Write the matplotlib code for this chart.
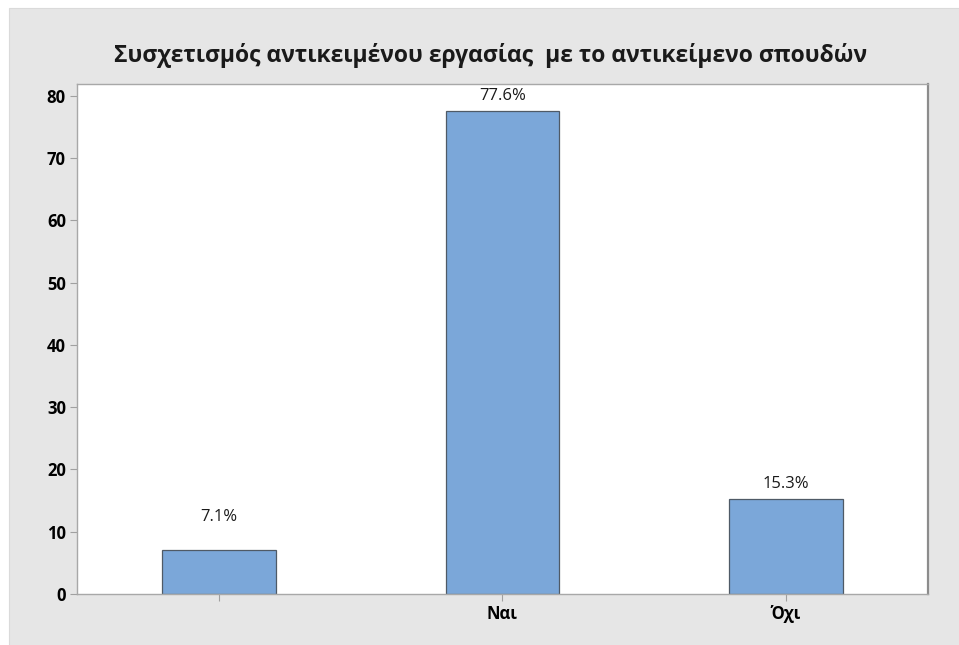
import numpy as np
import matplotlib
matplotlib.use('Agg')
import matplotlib.pyplot as plt

plt.rcParams['font.family'] = ['Open Sans', 'DejaVu Sans']

categories = ['', 'Ναι', 'Όχι']
percentages = [7.1, 77.6, 15.3]
y_ticks = [0, 10, 20, 30, 40, 50, 60, 70, 80]
title = 'Συσχετισμός αντικειμένου εργασίας  με το αντικείμενο σπουδών'

fig = plt.figure(figsize=(9.59, 6.45), dpi=100)
fig.patch.set_facecolor('white')
# grey panel (white strip on top and left)
fig.patches.append(plt.Rectangle((9 / 959, -0.01), 1, 1.01 - 8 / 645, transform=fig.transFigure,
                                 facecolor='#e6e6e6', edgecolor='#dadada', lw=0.8, zorder=-1))

ax = fig.add_axes([77 / 959, 1 - 594 / 645, 851 / 959, 510 / 645])
ax.set_facecolor('white')

x = np.arange(len(categories))
ax.bar(x, percentages, width=0.4, color='#7ba7d9', edgecolor='#4f5a66', linewidth=0.9, zorder=2)

for xi, v in zip(x, percentages):
    ax.text(xi, max(v, 10) + 2.3, f'{v}%', ha='center', va='center', fontsize=12, color='#1a1a1a')

ax.set_xlim(-0.5, 2.5)
ax.set_ylim(0, 81.9)
ax.set_xticks(x)
ax.set_xticklabels(categories, fontsize=12, fontweight='bold')
ax.set_yticks(y_ticks)
ax.set_yticklabels([str(t) for t in y_ticks], fontsize=12, fontweight='bold')
ax.tick_params(axis='both', direction='out', length=5, width=0.8, color='#a0a0a0', pad=3)

for side in ['top', 'left', 'bottom']:
    ax.spines[side].set_color('#a8a8a8')
    ax.spines[side].set_linewidth(1.0)
ax.spines['right'].set_color('#8c8c8c')
ax.spines['right'].set_linewidth(1.6)

fig.text(491 / 959, 1 - 55 / 645, title, ha='center', va='center', fontsize=16.5, fontweight='bold', color='#1a1a1a')

fig.savefig('out.png', dpi=100, facecolor=fig.get_facecolor())
